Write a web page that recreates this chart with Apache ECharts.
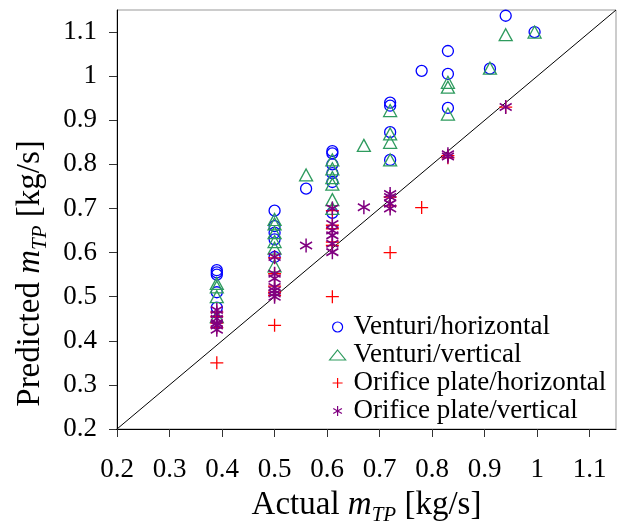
<!DOCTYPE html>
<html>
<head>
<meta charset="utf-8">
<script src="https://cdn.jsdelivr.net/npm/echarts@6/dist/echarts.min.js"></script>
<style>
  html, body { margin: 0; padding: 0; background: #fff; }
  #chart { width: 627px; height: 525px; }
</style>
</head>
<body>
<div id="chart"></div>
<script>
// Axis range and tick values (both axes share them)
const axisMin = 0.2;
const axisMax = 1.15;
const tickValues = [0.2, 0.3, 0.4, 0.5, 0.6, 0.7, 0.8, 0.9, 1.0, 1.1];

// Perfect-agreement reference line (actual = predicted)
const diagonal = [0.19, 1.15];

// [actual, predicted] mass flow rates, kg/s
const venturiHorizontal = [
  [0.39, 0.56], [0.39, 0.555], [0.39, 0.55], [0.39, 0.51], [0.39, 0.475],
  [0.50, 0.695], [0.50, 0.66], [0.50, 0.645], [0.50, 0.63], [0.50, 0.59],
  [0.56, 0.745],
  [0.61, 0.83], [0.61, 0.825], [0.61, 0.80], [0.61, 0.78], [0.61, 0.76], [0.61, 0.69],
  [0.72, 0.94], [0.72, 0.933], [0.72, 0.873], [0.72, 0.81],
  [0.78, 1.012],
  [0.83, 1.057], [0.83, 1.005], [0.83, 0.928],
  [0.91, 1.017],
  [0.94, 1.137],
  [0.995, 1.10]
];

const venturiVertical = [
  [0.39, 0.53], [0.39, 0.522], [0.39, 0.50], [0.39, 0.455],
  [0.50, 0.675], [0.50, 0.665], [0.50, 0.645], [0.50, 0.625], [0.50, 0.61], [0.50, 0.57],
  [0.56, 0.776],
  [0.61, 0.81], [0.61, 0.79], [0.61, 0.77], [0.61, 0.755], [0.61, 0.72], [0.61, 0.70],
  [0.67, 0.843],
  [0.72, 0.922], [0.72, 0.869], [0.72, 0.85], [0.72, 0.81],
  [0.83, 0.986], [0.83, 0.975], [0.83, 0.914],
  [0.91, 1.018],
  [0.94, 1.094],
  [0.995, 1.10]
];

const orificeHorizontal = [
  [0.39, 0.465], [0.39, 0.455], [0.39, 0.44], [0.39, 0.43], [0.39, 0.35],
  [0.50, 0.588], [0.50, 0.552], [0.50, 0.524], [0.50, 0.51], [0.50, 0.503], [0.50, 0.435],
  [0.61, 0.695], [0.61, 0.662], [0.61, 0.654], [0.61, 0.624], [0.61, 0.616], [0.61, 0.50],
  [0.72, 0.726], [0.72, 0.706], [0.72, 0.60],
  [0.78, 0.702],
  [0.83, 0.82], [0.83, 0.815],
  [0.94, 0.93]
];

const orificeVertical = [
  [0.39, 0.47], [0.39, 0.46], [0.39, 0.45], [0.39, 0.44], [0.39, 0.435], [0.39, 0.425],
  [0.50, 0.59], [0.50, 0.552], [0.50, 0.541], [0.50, 0.522], [0.50, 0.514], [0.50, 0.507], [0.50, 0.50],
  [0.56, 0.616],
  [0.61, 0.70], [0.61, 0.665], [0.61, 0.65], [0.61, 0.639], [0.61, 0.62], [0.61, 0.601],
  [0.67, 0.703],
  [0.72, 0.733], [0.72, 0.726], [0.72, 0.711], [0.72, 0.70],
  [0.83, 0.823], [0.83, 0.818],
  [0.94, 0.93]
];

const seriesNames = [
  'Venturi/horizontal',
  'Venturi/vertical',
  'Orifice plate/horizontal',
  'Orifice plate/vertical'
];

const FONT = "'Liberation Serif', 'Times New Roman', serif";
const PLUS = 'path://M0,-10L0,10M-10,0L10,0';
const ASTERISK = 'path://M0,-10L0,10M-8.66,-5L8.66,5M-8.66,5L8.66,-5';

const styles = [
  { symbol: 'circle',   size: 11,       color: '#0000ff' },
  { symbol: 'triangle', size: [13, 12], color: '#2e9b5e' },
  { symbol: PLUS,       size: 13,       color: '#ff0000' },
  { symbol: ASTERISK,   size: [12, 14], color: '#800080' }
];
const datasets = [venturiHorizontal, venturiVertical, orificeHorizontal, orificeVertical];

const nameRich = {
  t: { fontFamily: FONT, fontSize: 33, color: '#000', lineHeight: 42 },
  i: { fontFamily: FONT, fontSize: 33, color: '#000', fontStyle: 'italic', lineHeight: 42 },
  s: { fontFamily: FONT, fontSize: 21, color: '#000', fontStyle: 'italic', lineHeight: 18, verticalAlign: 'bottom' }
};

function valueAxis(name, labelMargin, nameGap, namePadding) {
  return {
    type: 'value',
    min: axisMin,
    max: axisMax,
    name: name,
    nameLocation: 'middle',
    nameGap: nameGap,
    nameTextStyle: { rich: nameRich, padding: namePadding },
    axisLine: { show: true, onZero: false, lineStyle: { color: '#000', width: 1 } },
    axisTick: {
      show: true, inside: false, length: 8,
      customValues: tickValues,
      lineStyle: { color: '#333', width: 1 }
    },
    axisLabel: {
      customValues: tickValues,
      margin: labelMargin,
      fontFamily: FONT, fontSize: 27, color: '#000',
      formatter: v => String(Math.round(v * 10) / 10)
    },
    splitLine: { show: false }
  };
}

const series = datasets.map((data, k) => ({
  name: seriesNames[k],
  type: 'scatter',
  data: data,
  symbol: styles[k].symbol,
  symbolSize: styles[k].size,
  itemStyle: { color: 'transparent', borderColor: styles[k].color, borderWidth: k === 3 ? 1.6 : 1.3, opacity: 1 },
  emphasis: { disabled: true },
  z: 3 + k
}));

series.unshift({
  type: 'line',
  data: [[diagonal[0], diagonal[0]], [diagonal[1], diagonal[1]]],
  symbol: 'none',
  clip: false,
  lineStyle: { color: '#000', width: 1 },
  silent: true,
  z: 2
});

const chart = echarts.init(document.getElementById('chart'), null, { renderer: 'canvas' });
chart.setOption({
  animation: false,
  backgroundColor: '#fff',
  grid: {
    left: 117, right: 11, top: 10, bottom: 96,
    containLabel: false,
    outerBoundsMode: 'none',
    show: true, borderColor: '#999', borderWidth: 1, backgroundColor: 'transparent'
  },
  xAxis: valueAxis('{t|Actual }{i|m}{s|TP}{t| [kg/s]}', 27, 55, [0, 0, 0, 0]),
  yAxis: valueAxis('{t|Predicted }{i|m}{s|TP}{t| [kg/s]}', 20, 66, [0, 108, 0, 0]),
  legend: {
    orient: 'vertical',
    left: 329,
    top: 313,
    itemWidth: 16,
    itemHeight: 10,
    itemGap: 0,
    padding: 0,
    textStyle: { fontFamily: FONT, fontSize: 27, color: '#000', lineHeight: 28, padding: [0, 0, 0, 3] },
    data: seriesNames.map((n, k) => ({
      name: n,
      icon: styles[k].symbol,
      itemStyle: { color: 'transparent', borderColor: styles[k].color, borderWidth: 1.2 }
    }))
  },
  series: series
});
</script>
</body>
</html>
